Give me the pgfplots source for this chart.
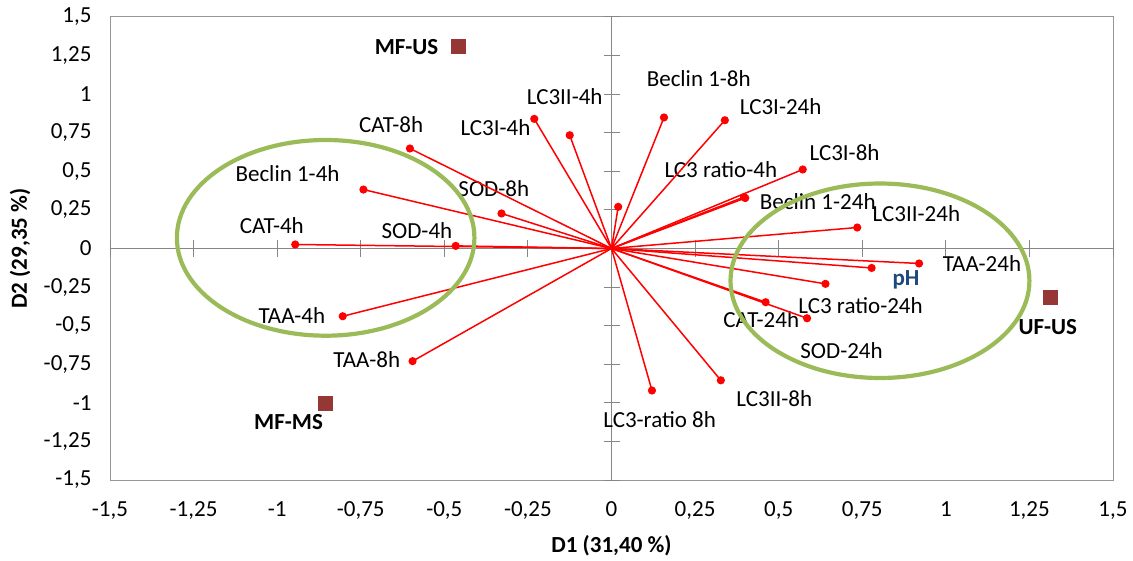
\documentclass[border=0pt]{standalone}
\usepackage{fontspec}
\setmainfont{Carlito}
\usepackage{pgfplots}
\pgfplotsset{compat=1.18}
\definecolor{axgray}{RGB}{134,134,134}
\definecolor{boxgray}{RGB}{150,150,150}
\definecolor{vecred}{RGB}{255,0,0}
\definecolor{sq}{RGB}{149,55,53}
\definecolor{ell}{RGB}{155,187,89}
\definecolor{phblue}{RGB}{31,73,125}
\newcommand{\lbl}{\fontsize{23}{27}\selectfont}
\begin{document}
\begin{tikzpicture}
\begin{axis}[name=ax, scale only axis, width=1003pt, height=463pt,
  xmin=-1.5,xmax=1.5,ymin=-1.5,ymax=1.5,
  axis line style={draw=boxgray, line width=1pt},
  xtick={-1.5,-1.25,-1,-0.75,-0.5,-0.25,0,0.25,0.5,0.75,1,1.25,1.5},
  ytick={-1.5,-1.25,-1,-0.75,-0.5,-0.25,0,0.25,0.5,0.75,1,1.25,1.5},
  xticklabels={{-1,5},{-1,25},{-1},{-0,75},{-0,5},{-0,25},{0},{0,25},{0,5},{0,75},{1},{1,25},{1,5}},
  yticklabels={{-1,5},{-1,25},{-1},{-0,75},{-0,5},{-0,25},{0},{0,25},{0,5},{0,75},{1},{1,25},{1,5}},
  major tick length=0pt,
  tick label style={font=\lbl},
  xticklabel style={yshift=-18pt},
  yticklabel style={xshift=-15pt},
  clip=false]
\end{axis}
\begin{axis}[at={(ax.south west)}, anchor=south west, scale only axis, width=1003pt, height=463pt,
  xmin=-1.5,xmax=1.5,ymin=-1.5,ymax=1.5,
  axis lines=middle, axis line style={-, draw=axgray, line width=1.3pt},
  xtick={-1.5,-1.25,-1,-0.75,-0.5,-0.25,0,0.25,0.5,0.75,1,1.25,1.5},
  ytick={-1.5,-1.25,-1,-0.75,-0.5,-0.25,0,0.25,0.5,0.75,1,1.25,1.5},
  xticklabels={}, yticklabels={},
  major tick length=16pt, tick align=center,
  tick style={draw=axgray, line width=1pt},
  clip=false,
  vec/.style={vecred, line width=1.5pt, mark=*, mark indices={2}, mark size=3.3pt, mark options={fill=vecred, draw=vecred, solid}}]
% labels
\node[font=\lbl\bfseries] at (axis cs:-0.613,1.305) {MF-US};
\node[font=\lbl] at (axis cs:-0.659,0.805) {CAT-8h};
\node[font=\lbl] at (axis cs:-0.969,0.488) {Beclin 1-4h};
\node[font=\lbl] at (axis cs:-0.140,0.987) {LC3II-4h};
\node[font=\lbl] at (axis cs:-0.347,0.782) {LC3I-4h};
\node[font=\lbl] at (axis cs:-0.352,0.391) {SOD-8h};
\node[font=\lbl] at (axis cs:-1.016,0.150) {CAT-4h};
\node[font=\lbl] at (axis cs:-0.582,0.119) {SOD-4h};
\node[font=\lbl] at (axis cs:0.261,1.104) {Beclin 1-8h};
\node[font=\lbl] at (axis cs:0.506,0.922) {LC3I-24h};
\node[font=\lbl] at (axis cs:0.327,0.510) {LC3 ratio-4h};
\node[font=\lbl] at (axis cs:0.697,0.624) {LC3I-8h};
\node[font=\lbl] at (axis cs:0.617,0.302) {Beclin 1-24h};
\node[font=\lbl] at (axis cs:0.912,0.227) {LC3II-24h};
\node[font=\lbl] at (axis cs:1.108,-0.097) {TAA-24h};
\node[font=\lbl\bfseries, text=phblue] at (axis cs:0.881,-0.205) {pH};
\node[font=\lbl] at (axis cs:0.745,-0.367) {LC3 ratio-24h};
\node[font=\lbl] at (axis cs:0.448,-0.458) {CAT-24h};
\node[font=\lbl\bfseries] at (axis cs:1.305,-0.508) {UF-US};
\node[font=\lbl] at (axis cs:0.688,-0.659) {SOD-24h};
\node[font=\lbl] at (axis cs:-0.956,-0.437) {TAA-4h};
\node[font=\lbl] at (axis cs:-0.732,-0.717) {TAA-8h};
\node[font=\lbl] at (axis cs:0.487,-0.973) {LC3II-8h};
\node[font=\lbl] at (axis cs:0.144,-1.109) {LC3-ratio 8h};
\node[font=\lbl\bfseries] at (axis cs:-0.966,-1.124) {MF-MS};
% vectors
\addplot[vec] coordinates {(0,0) (-0.946,0.026)};
\addplot[vec] coordinates {(0,0) (-0.742,0.382)};
\addplot[vec] coordinates {(0,0) (-0.603,0.648)};
\addplot[vec] coordinates {(0,0) (-0.329,0.227)};
\addplot[vec] coordinates {(0,0) (-0.466,0.017)};
\addplot[vec] coordinates {(0,0) (-0.231,0.840)};
\addplot[vec] coordinates {(0,0) (-0.125,0.734)};
\addplot[vec] coordinates {(0,0) (0.020,0.270)};
\addplot[vec] coordinates {(0,0) (0.157,0.849)};
\addplot[vec] coordinates {(0,0) (0.339,0.831)};
\addplot[vec] coordinates {(0,0) (0.572,0.512)};
\addplot[vec] coordinates {(0,0) (0.400,0.327)};
\addplot[vec] coordinates {(0,0) (0.396,0.333)};
\addplot[vec] coordinates {(0,0) (0.735,0.136)};
\addplot[vec] coordinates {(0,0) (0.920,-0.097)};
\addplot[vec] coordinates {(0,0) (0.778,-0.126)};
\addplot[vec] coordinates {(0,0) (0.640,-0.229)};
\addplot[vec] coordinates {(0,0) (0.461,-0.348)};
\addplot[vec] coordinates {(0,0) (0.585,-0.452)};
\addplot[vec] coordinates {(0,0) (0.327,-0.854)};
\addplot[vec] coordinates {(0,0) (0.121,-0.920)};
\addplot[vec] coordinates {(0,0) (-0.804,-0.439)};
\addplot[vec] coordinates {(0,0) (-0.595,-0.730)};
% groups
\addplot[only marks, mark=square*, mark size=7pt, draw=sq, fill=sq] coordinates {(-0.459,1.311) (1.313,-0.316) (-0.857,-1.005)};
% ellipses
\draw[ell, line width=4.2pt] (axis cs:-0.855,0.069) ellipse [x radius=0.445, y radius=0.634];
\draw[ell, line width=4.2pt] (axis cs:0.803,-0.209) ellipse [x radius=0.447, y radius=0.630];
\end{axis}
\node[font=\lbl\bfseries] at ([yshift=-66pt]ax.south) {D1 (31,40 \%)};
\node[font=\lbl\bfseries, rotate=90] at ([xshift=-90pt]ax.west) {D2 (29,35 \%)};
\pgfresetboundingbox
\path[use as bounding box] ([xshift=-110pt,yshift=-80pt]ax.south west) rectangle ([xshift=20pt,yshift=17pt]ax.north east);
\end{tikzpicture}
\end{document}
